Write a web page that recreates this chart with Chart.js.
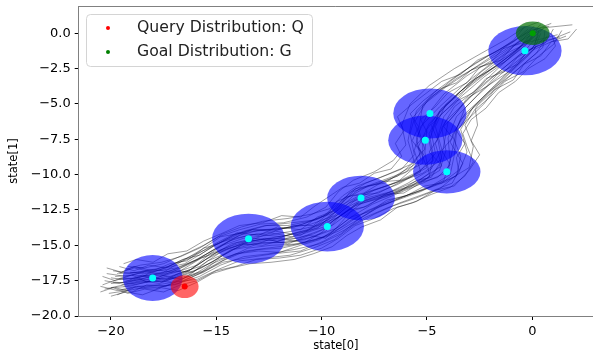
<!DOCTYPE html>
<html>
<head>
<meta charset="utf-8">
<script src="https://cdn.jsdelivr.net/npm/chart.js@4"></script>
<style>
  body { margin: 0; background: #fff; }
  canvas { display: block; }
</style>
</head>
<body>
<canvas id="chart" width="593" height="355"></canvas>
<script>
// =========================
// DATA
// =========================
const xTicks = [-20, -15, -10, -5, 0];
const yTicks = [0, -2.5, -5, -7.5, -10, -12.5, -15, -17.5, -20];
const xMin = -21.53, xMax = 2.88;
const yMin = -20.0, yMax = 1.93;

// blue ellipses (centres = cyan points), radii in data units
const ellipseX  = [-18.02, -13.47, -9.73, -8.13, -4.86, -5.08, -4.06, -0.35];
const ellipseY  = [-17.31, -14.53, -13.67, -11.66, -5.67, -7.56, -9.80, -1.23];
const ellipseRx = [1.42, 1.73, 1.74, 1.61, 1.74, 1.76, 1.60, 1.74];
const ellipseRy = [1.63, 1.77, 1.76, 1.59, 1.77, 1.74, 1.53, 1.74];

// query / goal distributions
const queryPoint = [-16.5, -17.92];
const queryRadius = [0.66, 0.81];
const goalPoint = [0.02, 0.0];
const goalRadius = [0.80, 0.83];

const legendLabels = ['Query Distribution: Q', 'Goal Distribution: G'];

// sample trajectories [x, y]
const trajectories = [
  [[-20.3,-18.1],[-19.4,-17.8],[-18.5,-17.6],[-17.4,-17.5],[-16.3,-17.0],[-15.2,-16.2],[-14.3,-15.3],[-13.2,-14.9],[-12.0,-14.8],[-10.8,-14.6],[-9.8,-14.0],[-9.1,-12.9],[-8.3,-12.1],[-7.0,-11.6],[-5.8,-10.9],[-4.9,-9.9],[-5.1,-8.4],[-5.0,-6.8],[-4.3,-5.3],[-3.1,-3.9],[-1.9,-2.5],[-0.8,-1.3],[-0.1,-0.2]],
  [[-19.6,-17.0],[-18.8,-16.9],[-17.8,-16.8],[-16.9,-16.6],[-15.9,-16.0],[-14.9,-15.1],[-13.9,-14.3],[-12.9,-13.9],[-11.7,-13.8],[-10.5,-13.5],[-9.4,-12.9],[-8.6,-11.9],[-7.8,-11.2],[-6.5,-10.6],[-5.2,-9.9],[-4.3,-8.9],[-4.5,-7.4],[-4.2,-5.9],[-3.4,-4.5],[-2.3,-3.1],[-1.1,-1.8],[-0.2,-0.7],[0.2,0.1]],
  [[-20.1,-18.4],[-19.2,-18.2],[-18.1,-17.9],[-17.0,-17.8],[-15.8,-17.2],[-14.8,-16.4],[-13.7,-15.8],[-12.5,-15.6],[-11.3,-15.3],[-10.1,-14.9],[-9.1,-14.2],[-8.2,-13.1],[-7.2,-12.2],[-6.0,-11.5],[-4.8,-10.8],[-3.9,-10.0],[-3.7,-8.6],[-3.6,-7.0],[-2.9,-5.4],[-1.9,-3.9],[-0.9,-2.5],[0.1,-1.1],[0.4,0.0]],
  [[-19.2,-16.5],[-18.4,-16.6],[-17.5,-16.3],[-16.6,-15.7],[-15.6,-15.0],[-14.7,-14.2],[-13.8,-13.7],[-12.8,-13.3],[-11.6,-13.1],[-10.5,-12.8],[-9.6,-12.4],[-9.0,-11.5],[-8.3,-10.8],[-7.2,-10.2],[-6.2,-9.6],[-5.6,-8.6],[-5.8,-7.1],[-5.5,-5.5],[-4.6,-4.1],[-3.4,-2.8],[-2.1,-1.6],[-0.9,-0.6],[-0.2,0.3]],
  [[-20.0,-17.3],[-19.0,-17.5],[-18.2,-17.0],[-17.2,-17.2],[-16.2,-16.7],[-15.3,-15.6],[-14.2,-15.0],[-13.3,-14.6],[-12.2,-14.0],[-11.0,-14.3],[-10.0,-13.3],[-9.3,-12.6],[-8.5,-11.5],[-7.3,-11.3],[-6.1,-10.4],[-5.0,-9.5],[-5.4,-8.0],[-4.9,-6.4],[-4.0,-5.0],[-3.0,-3.5],[-1.6,-2.2],[-0.6,-1.0],[0.0,0.1]],
  [[-19.4,-17.9],[-18.6,-17.7],[-17.6,-17.4],[-16.7,-17.3],[-15.6,-16.8],[-14.6,-16.0],[-13.5,-15.2],[-12.4,-15.0],[-11.1,-14.9],[-9.9,-14.4],[-8.9,-13.6],[-7.9,-12.6],[-6.7,-11.8],[-5.4,-11.2],[-4.1,-10.5],[-3.0,-9.5],[-2.8,-8.0],[-3.2,-6.5],[-2.6,-5.1],[-1.5,-3.6],[-0.5,-2.3],[0.5,-1.0],[0.6,0.2]],
  [[-19.9,-16.8],[-19.1,-17.0],[-18.0,-16.7],[-17.1,-16.9],[-16.1,-16.2],[-15.1,-15.3],[-14.1,-14.5],[-13.1,-14.2],[-11.9,-14.4],[-10.7,-13.9],[-9.7,-13.2],[-9.0,-12.1],[-8.1,-11.4],[-6.9,-10.8],[-5.7,-10.1],[-4.7,-9.0],[-4.9,-7.6],[-4.5,-6.0],[-3.6,-4.7],[-2.7,-3.2],[-1.3,-2.0],[-0.3,-0.8],[0.3,0.4]],
  [[-20.4,-17.8],[-19.5,-17.3],[-18.7,-17.4],[-17.7,-17.1],[-16.7,-16.8],[-15.7,-15.9],[-14.6,-15.3],[-13.4,-14.8],[-12.3,-14.6],[-11.2,-14.1],[-10.2,-13.8],[-9.5,-12.8],[-8.7,-12.0],[-7.6,-11.4],[-6.4,-10.7],[-5.3,-9.8],[-5.6,-8.3],[-5.3,-6.6],[-4.4,-5.2],[-3.3,-3.7],[-2.1,-2.3],[-1.0,-1.1],[-0.3,0.0]],
  [[-19.0,-17.1],[-18.3,-16.8],[-17.3,-16.5],[-16.4,-15.9],[-15.5,-15.3],[-14.5,-14.6],[-13.6,-14.0],[-12.6,-13.6],[-11.4,-13.4],[-10.3,-13.2],[-9.3,-12.5],[-8.7,-11.3],[-7.9,-10.6],[-6.9,-10.0],[-5.8,-9.3],[-5.1,-8.2],[-5.4,-6.8],[-5.2,-5.1],[-4.1,-3.8],[-2.9,-2.6],[-1.7,-1.4],[-0.6,-0.3],[0.1,0.5]],
  [[-19.7,-18.5],[-18.9,-18.0],[-17.9,-18.1],[-16.9,-17.6],[-15.9,-17.4],[-14.9,-16.7],[-13.9,-16.1],[-12.7,-15.9],[-11.5,-15.7],[-10.4,-15.2],[-9.4,-14.6],[-8.5,-13.6],[-7.5,-12.8],[-6.3,-12.0],[-5.0,-11.3],[-3.8,-10.6],[-3.3,-9.2],[-3.9,-7.7],[-3.4,-6.1],[-2.3,-4.6],[-1.2,-3.0],[-0.2,-1.6],[0.5,-0.4]],
  [[-20.2,-17.0],[-19.3,-17.2],[-18.4,-16.9],[-17.5,-17.0],[-16.5,-16.4],[-15.4,-15.7],[-14.4,-14.7],[-13.5,-14.3],[-12.5,-14.1],[-11.4,-14.4],[-10.3,-13.7],[-9.2,-13.0],[-8.4,-12.2],[-7.4,-11.7],[-6.3,-11.1],[-5.1,-10.4],[-4.4,-9.4],[-4.2,-7.9],[-4.0,-6.3],[-3.2,-4.9],[-2.2,-3.3],[-1.0,-1.6],[-0.1,-0.4]],
  [[-19.3,-17.6],[-18.5,-17.4],[-17.6,-17.6],[-16.8,-17.0],[-15.8,-16.5],[-14.8,-15.5],[-13.8,-14.9],[-12.7,-14.5],[-11.5,-14.6],[-10.4,-14.2],[-9.5,-13.6],[-8.7,-12.7],[-8.0,-11.9],[-6.8,-11.4],[-5.5,-10.7],[-4.4,-9.7],[-4.1,-8.3],[-4.3,-6.7],[-3.7,-5.2],[-2.5,-3.8],[-1.4,-2.5],[-0.4,-1.3],[0.2,-0.3]],
  [[-19.8,-17.2],[-18.9,-17.1],[-17.9,-17.3],[-16.9,-16.9],[-15.9,-16.4],[-15.0,-15.5],[-14.0,-14.8],[-12.9,-14.6],[-11.7,-14.3],[-10.6,-14.0],[-9.7,-13.4],[-8.9,-12.4],[-8.0,-11.7],[-6.7,-11.2],[-5.4,-10.4],[-4.3,-9.4],[-4.6,-7.8],[-4.1,-6.2],[-3.0,-4.6],[-1.8,-3.0],[-0.6,-1.5],[0.8,-0.5],[1.8,0.1]],
  [[-19.5,-18.2],[-18.7,-17.9],[-17.8,-17.8],[-16.6,-17.5],[-15.6,-16.9],[-14.7,-16.1],[-13.6,-15.4],[-12.6,-15.2],[-11.5,-15.0],[-10.3,-14.6],[-9.2,-14.0],[-8.3,-13.2],[-7.4,-12.4],[-6.2,-11.6],[-4.9,-10.9],[-3.6,-10.1],[-3.4,-8.7],[-3.8,-7.2],[-3.2,-5.7],[-2.1,-4.2],[-0.9,-2.8],[0.2,-1.4],[0.7,-0.2]],
  [[-20.0,-17.7],[-19.2,-17.6],[-18.3,-17.3],[-17.3,-17.4],[-16.4,-16.9],[-15.5,-16.0],[-14.4,-15.2],[-13.4,-14.7],[-12.3,-14.5],[-11.1,-14.5],[-10.0,-13.9],[-9.2,-13.0],[-8.4,-12.1],[-7.3,-11.5],[-6.0,-10.9],[-4.9,-10.2],[-4.7,-8.6],[-4.9,-7.1],[-4.4,-5.6],[-3.5,-4.2],[-2.3,-2.9],[-1.1,-1.6],[-0.2,-0.5]],
  [[-19.1,-16.9],[-18.3,-17.0],[-17.4,-16.6],[-16.5,-16.3],[-15.6,-15.5],[-14.6,-14.6],[-13.7,-14.0],[-12.7,-13.6],[-11.6,-13.6],[-10.6,-13.3],[-9.6,-12.8],[-8.9,-11.8],[-8.2,-11.0],[-7.1,-10.4],[-6.0,-9.8],[-5.3,-8.9],[-5.5,-7.4],[-5.0,-5.8],[-4.2,-4.3],[-3.1,-3.0],[-1.8,-1.8],[-0.7,-0.7],[0.4,0.6]],
  [[-20.3,-17.5],[-19.6,-17.7],[-18.6,-17.2],[-17.5,-16.9],[-16.6,-16.1],[-15.7,-15.3],[-14.8,-14.4],[-13.7,-14.1],[-12.6,-13.9],[-11.3,-13.7],[-10.1,-13.1],[-9.2,-12.3],[-8.5,-11.2],[-7.5,-10.7],[-6.4,-10.1],[-5.6,-9.1],[-5.9,-7.6],[-5.7,-6.0],[-4.8,-4.5],[-3.6,-3.2],[-2.2,-2.0],[-1.0,-0.9],[0.6,0.4],[1.9,0.6]],
  [[-19.6,-17.4],[-18.8,-17.3],[-17.7,-17.0],[-16.7,-16.6],[-15.7,-15.8],[-14.7,-15.0],[-13.7,-14.5],[-12.6,-14.3],[-11.4,-14.0],[-10.2,-13.6],[-9.2,-12.8],[-8.4,-11.8],[-7.5,-11.1],[-6.4,-10.5],[-5.3,-9.7],[-4.6,-8.5],[-4.8,-7.0],[-4.4,-5.5],[-3.4,-4.1],[-2.4,-2.7],[-1.2,-1.4],[-0.1,-0.6],[1.2,-0.1]],
  [[-20.0,-18.0],[-19.1,-17.9],[-18.1,-17.5],[-17.1,-17.6],[-16.1,-17.1],[-15.2,-16.3],[-14.1,-15.6],[-13.0,-15.3],[-11.9,-15.2],[-10.7,-14.8],[-9.6,-14.3],[-8.7,-13.3],[-7.7,-12.5],[-6.6,-11.9],[-5.3,-11.2],[-4.2,-10.4],[-3.9,-9.0],[-4.0,-7.4],[-3.6,-5.9],[-2.6,-4.4],[-1.5,-2.9],[-0.5,-1.7],[0.3,-0.6],[1.3,-0.3]],
  [[-19.3,-16.7],[-18.6,-16.4],[-17.6,-16.2],[-16.7,-15.8],[-15.8,-15.2],[-14.9,-14.4],[-13.9,-13.9],[-12.9,-13.5],[-11.8,-13.4],[-10.7,-13.0],[-9.8,-12.3],[-9.2,-11.2],[-8.5,-10.4],[-7.5,-9.8],[-6.6,-9.0],[-6.0,-7.9],[-6.2,-6.5],[-5.8,-5.0],[-4.9,-3.7],[-3.7,-2.5],[-2.4,-1.4],[-1.2,-0.4],[-0.4,0.4]],
  [[-20.5,-17.9],[-19.7,-18.2],[-18.8,-17.9],[-17.8,-18.0],[-16.8,-17.7],[-15.8,-17.0],[-14.7,-16.2],[-13.6,-15.9],[-12.3,-15.6],[-11.0,-15.4],[-9.9,-14.7],[-8.9,-13.9],[-7.9,-13.0],[-6.8,-12.3],[-5.6,-11.7],[-4.4,-11.0],[-3.5,-9.9],[-3.1,-8.4],[-3.4,-6.8],[-2.8,-5.2],[-1.8,-3.7],[-0.8,-2.2],[0.1,-0.9],[0.3,0.2]],
  [[-19.7,-17.0],[-18.9,-16.6],[-18.0,-16.9],[-17.1,-16.4],[-16.2,-15.9],[-15.2,-15.0],[-14.3,-14.3],[-13.3,-13.9],[-12.1,-13.9],[-10.9,-13.5],[-9.9,-12.9],[-9.1,-11.9],[-8.4,-11.0],[-7.2,-10.6],[-6.1,-9.9],[-5.2,-9.2],[-5.2,-7.9],[-5.6,-6.3],[-5.0,-4.8],[-3.9,-3.4],[-2.7,-2.1],[-1.4,-1.0],[-0.3,0.0],[0.9,0.7]],
  [[-19.9,-17.6],[-19.0,-17.7],[-18.2,-17.4],[-17.3,-17.3],[-16.3,-16.8],[-15.3,-15.8],[-14.3,-14.9],[-13.2,-14.5],[-12.1,-14.7],[-10.9,-14.2],[-9.9,-13.7],[-9.0,-12.8],[-8.2,-11.9],[-7.0,-11.4],[-5.9,-10.6],[-4.8,-9.6],[-4.3,-8.2],[-4.6,-6.6],[-4.1,-5.0],[-3.0,-3.6],[-1.9,-2.3],[-0.8,-1.2],[0.0,-0.2]],
  [[-19.5,-17.8],[-18.6,-17.5],[-17.7,-17.7],[-16.8,-17.2],[-15.7,-16.6],[-14.8,-15.8],[-13.8,-15.0],[-12.8,-14.8],[-11.6,-14.8],[-10.4,-14.4],[-9.3,-13.8],[-8.5,-12.9],[-7.6,-12.1],[-6.5,-11.4],[-5.2,-10.6],[-4.0,-9.8],[-3.8,-8.3],[-3.6,-6.8],[-3.2,-5.3],[-2.3,-3.9],[-1.0,-2.6],[0.0,-1.2],[0.9,-0.6],[1.6,-0.2]],
  [[-20.2,-16.6],[-19.5,-16.9],[-18.9,-16.5],[-18.0,-16.8],[-17.2,-16.3],[-16.4,-16.1],[-15.6,-15.2],[-14.9,-14.9],[-14.0,-14.1],[-13.0,-14.3],[-12.1,-13.7],[-11.0,-13.9],[-10.2,-13.0],[-9.5,-12.6],[-8.9,-11.6],[-8.0,-11.3],[-7.1,-10.5],[-6.3,-10.4],[-5.6,-9.5],[-5.1,-8.7],[-5.5,-7.9],[-5.0,-7.0],[-5.3,-6.1],[-4.6,-5.2],[-4.0,-4.2],[-3.1,-3.5],[-2.5,-2.4],[-1.5,-1.9],[-0.9,-0.9],[-0.1,-0.5],[0.5,0.3]],
  [[-20.0,-18.6],[-19.3,-18.3],[-18.5,-18.5],[-17.6,-18.0],[-16.8,-18.2],[-15.9,-17.6],[-15.2,-17.0],[-14.3,-16.6],[-13.4,-16.3],[-12.4,-16.2],[-11.3,-16.0],[-10.4,-15.6],[-9.5,-15.1],[-8.8,-14.3],[-8.1,-13.7],[-7.2,-13.2],[-6.4,-12.3],[-5.5,-11.9],[-4.6,-11.1],[-3.7,-10.8],[-3.0,-9.7],[-2.5,-8.6],[-2.9,-7.6],[-2.6,-6.5],[-2.7,-5.4],[-2.0,-4.5],[-1.3,-3.4],[-0.4,-2.7],[0.3,-1.6],[1.0,-0.8],[1.4,0.2]],
  [[-19.4,-16.3],[-18.8,-16.0],[-18.0,-16.2],[-17.3,-15.6],[-16.4,-15.4],[-15.6,-14.7],[-14.8,-14.2],[-13.9,-13.6],[-12.8,-13.4],[-11.9,-12.9],[-11.0,-13.0],[-10.3,-12.2],[-9.7,-11.6],[-9.0,-10.9],[-8.2,-10.6],[-7.5,-9.9],[-6.7,-9.6],[-6.2,-8.7],[-6.5,-7.8],[-6.1,-6.9],[-6.4,-5.9],[-5.7,-5.0],[-5.0,-4.2],[-4.3,-3.4],[-3.4,-2.9],[-2.6,-1.9],[-1.7,-1.3],[-0.9,-0.5],[-0.4,0.4],[0.3,0.8]],
  [[-20.4,-17.2],[-19.8,-17.5],[-19.0,-17.1],[-18.3,-17.6],[-17.4,-17.2],[-16.6,-17.4],[-15.8,-16.6],[-15.1,-16.1],[-14.2,-15.3],[-13.4,-15.1],[-12.5,-14.6],[-11.6,-14.9],[-10.6,-14.3],[-9.8,-14.5],[-9.2,-13.6],[-8.6,-12.6],[-7.8,-12.2],[-7.0,-11.4],[-6.1,-11.3],[-5.2,-10.5],[-4.5,-10.2],[-3.9,-9.3],[-4.3,-8.3],[-3.8,-7.4],[-4.2,-6.6],[-3.6,-5.6],[-3.1,-4.6],[-2.2,-3.8],[-1.6,-2.8],[-0.7,-2.2],[-0.2,-1.2],[0.6,-0.7],[1.0,0.3]],
  [[-19.8,-18.0],[-19.0,-18.3],[-18.3,-17.8],[-17.4,-17.9],[-16.5,-17.3],[-15.7,-16.9],[-14.9,-16.0],[-14.0,-15.6],[-13.0,-15.4],[-12.0,-15.5],[-11.0,-15.0],[-10.1,-14.6],[-9.3,-13.8],[-8.6,-13.0],[-7.7,-12.6],[-6.9,-11.8],[-6.0,-11.5],[-5.1,-10.8],[-4.3,-10.6],[-3.5,-9.7],[-3.6,-8.8],[-3.2,-7.8],[-3.6,-6.9],[-3.0,-6.0],[-2.3,-5.0],[-1.8,-4.0],[-0.9,-3.3],[-0.4,-2.2],[0.4,-1.6],[0.9,-0.6],[1.7,-0.4],[2.1,0.3]],
  [[-19.1,-17.4],[-18.5,-17.1],[-17.8,-17.3],[-17.0,-16.8],[-16.1,-16.9],[-15.4,-16.1],[-14.6,-15.6],[-13.7,-14.9],[-12.8,-15.0],[-11.8,-14.6],[-10.8,-14.8],[-10.0,-14.1],[-9.4,-13.2],[-8.7,-12.5],[-8.0,-12.3],[-7.1,-11.6],[-6.3,-11.2],[-5.5,-10.4],[-4.8,-10.2],[-4.4,-9.2],[-4.9,-8.4],[-4.5,-7.5],[-4.8,-6.5],[-4.3,-5.7],[-3.6,-4.8],[-2.8,-4.2],[-2.2,-3.2],[-1.3,-2.7],[-0.7,-1.7],[0.0,-1.1],[0.3,-0.1]],
  [[-20.5,-18.3],[-19.9,-18.0],[-19.2,-18.4],[-18.4,-18.1],[-17.5,-18.3],[-16.7,-17.8],[-15.9,-17.5],[-15.0,-16.8],[-14.1,-16.5],[-13.1,-16.0],[-12.0,-15.9],[-11.0,-15.7],[-10.0,-15.2],[-9.2,-14.5],[-8.4,-13.6],[-7.5,-13.1],[-6.6,-12.4],[-5.7,-12.0],[-4.8,-11.4],[-3.9,-10.9],[-3.2,-10.1],[-2.8,-9.1],[-3.1,-8.0],[-3.3,-7.1],[-2.9,-6.1],[-2.2,-5.3],[-1.6,-4.2],[-0.8,-3.4],[-0.2,-2.5],[0.6,-1.8],[1.1,-0.9],[0.9,0.0]],
  [[-19.6,-16.5],[-18.9,-16.8],[-18.2,-16.4],[-17.4,-16.6],[-16.6,-16.0],[-15.8,-15.7],[-15.0,-14.9],[-14.2,-14.5],[-13.3,-13.9],[-12.3,-14.0],[-11.3,-13.6],[-10.4,-13.6],[-9.7,-12.8],[-9.3,-11.9],[-8.6,-11.5],[-7.8,-10.8],[-7.0,-10.6],[-6.3,-9.9],[-5.7,-9.4],[-5.3,-8.4],[-5.7,-7.6],[-5.4,-6.6],[-5.8,-5.7],[-5.2,-4.8],[-4.5,-4.0],[-3.6,-3.5],[-2.9,-2.6],[-2.0,-2.1],[-1.4,-1.1],[-0.6,-0.7],[-0.1,0.2],[0.8,0.5]]
];

// =========================
// Helpers / plugins
// =========================
const FONT = "'DejaVu Sans', sans-serif";
const fmtNum = (v, d) => (v < 0 ? '\u2212' : '') + Math.abs(v).toFixed(d);

function drawEllipse(ctx, chart, cx, cy, rx, ry, fill) {
  const xs = chart.scales.x, ys = chart.scales.y;
  const px = xs.getPixelForValue(cx), py = ys.getPixelForValue(cy);
  const prx = Math.abs(xs.getPixelForValue(cx + rx) - px);
  const pry = Math.abs(ys.getPixelForValue(cy + ry) - py);
  ctx.beginPath();
  ctx.ellipse(px, py, prx, pry, 0, 0, Math.PI * 2);
  ctx.fillStyle = fill;
  ctx.fill();
}

const FIRST_TRAJ = 3;

const ellipsePlugin = {
  id: 'ellipses',
  afterDatasetDraw(chart, args) {
    if (args.index !== FIRST_TRAJ) return;
    const ctx = chart.ctx;
    ctx.save();
    ellipseX.forEach((cx, i) => {
      drawEllipse(ctx, chart, cx, ellipseY[i], ellipseRx[i], ellipseRy[i], 'rgba(0,0,255,0.6)');
    });
    drawEllipse(ctx, chart, queryPoint[0], queryPoint[1], queryRadius[0], queryRadius[1], 'rgba(255,0,0,0.6)');
    drawEllipse(ctx, chart, goalPoint[0], goalPoint[1], goalRadius[0], goalRadius[1], 'rgba(0,110,0,0.7)');
    ctx.restore();
  }
};

const framePlugin = {
  id: 'frame',
  afterDraw(chart) {
    const ctx = chart.ctx;
    const a = chart.chartArea;
    ctx.save();
    // top spine
    ctx.strokeStyle = '#808080';
    ctx.lineWidth = 1;
    ctx.beginPath();
    ctx.moveTo(a.left, a.top + 0.5);
    ctx.lineTo(a.right, a.top + 0.5);
    ctx.stroke();

    // legend
    const bx = 86, by = 14, bw = 226, bh = 52, r = 4;
    ctx.beginPath();
    ctx.roundRect(bx + 0.5, by + 0.5, bw, bh, r);
    ctx.fillStyle = 'rgba(255,255,255,0.8)';
    ctx.fill();
    ctx.strokeStyle = '#d4d4d4';
    ctx.stroke();
    const colors = ['#ff0000', '#008000'];
    ctx.font = '15.7px ' + FONT;
    ctx.textBaseline = 'alphabetic';
    ctx.textAlign = 'left';
    legendLabels.forEach((lbl, i) => {
      const cy = 28 + i * 24;
      ctx.beginPath();
      ctx.arc(108, cy, 2, 0, Math.PI * 2);
      ctx.fillStyle = colors[i];
      ctx.fill();
      ctx.fillStyle = '#222';
      ctx.fillText(lbl, 137, cy + 4.2);
    });
    ctx.restore();
  }
};

// =========================
// Chart
// =========================
const trajDatasets = trajectories.map(t => ({
  data: t.map(p => ({ x: p[0], y: p[1] })),
  showLine: true,
  borderColor: 'rgba(0,0,0,0.48)',
  borderWidth: 0.8,
  pointRadius: 0,
  tension: 0
}));

new Chart(document.getElementById('chart'), {
  type: 'scatter',
  data: {
    datasets: [
      {
        label: 'centres',
        data: ellipseX.map((x, i) => ({ x, y: ellipseY[i] })),
        backgroundColor: '#00ffff', borderWidth: 0, pointRadius: 3.5
      },
      {
        label: legendLabels[0],
        data: [{ x: queryPoint[0], y: queryPoint[1] }],
        backgroundColor: '#ff0000', borderWidth: 0, pointRadius: 3
      },
      {
        label: legendLabels[1],
        data: [{ x: goalPoint[0], y: goalPoint[1] }],
        backgroundColor: '#00a000', borderWidth: 0, pointRadius: 3
      },
      ...trajDatasets
    ]
  },
  options: {
    responsive: false,
    animation: false,
    layout: { autoPadding: false, padding: { left: 0, right: 0, top: 6, bottom: 0 } },
    plugins: { legend: { display: false }, tooltip: { enabled: false } },
    scales: {
      x: {
        type: 'linear', min: xMin, max: xMax,
        afterBuildTicks: s => { s.ticks = xTicks.map(v => ({ value: v })); },
        afterFit: s => { s.height = 39; s.paddingLeft = 0; s.paddingRight = 0; },
        ticks: {
          color: '#000', padding: 4, maxRotation: 0, autoSkip: false,
          font: { family: FONT, size: 13 },
          callback: v => fmtNum(v, 0)
        },
        grid: { drawOnChartArea: false, tickLength: 4, color: '#000' },
        border: { color: '#808080', width: 1 },
        title: {
          display: true, text: 'state[0]', color: '#000',
          font: { family: FONT, size: 11.5 }, padding: { top: 0, bottom: 2 }
        }
      },
      y: {
        type: 'linear', min: yMin, max: yMax,
        afterBuildTicks: s => { s.ticks = yTicks.map(v => ({ value: v })); },
        afterFit: s => { s.width = 78.7; s.paddingTop = 0; s.paddingBottom = 0; },
        ticks: {
          color: '#000', padding: 4, autoSkip: false,
          font: { family: FONT, size: 13 },
          callback: v => fmtNum(v, 1)
        },
        grid: { drawOnChartArea: false, tickLength: 4, color: '#000' },
        border: { color: '#808080', width: 1 },
        title: {
          display: true, text: 'state[1]', color: '#000',
          font: { family: FONT, size: 11.5 }, padding: { top: 7, bottom: 0 }
        }
      }
    }
  },
  plugins: [ellipsePlugin, framePlugin]
});
</script>
</body>
</html>
